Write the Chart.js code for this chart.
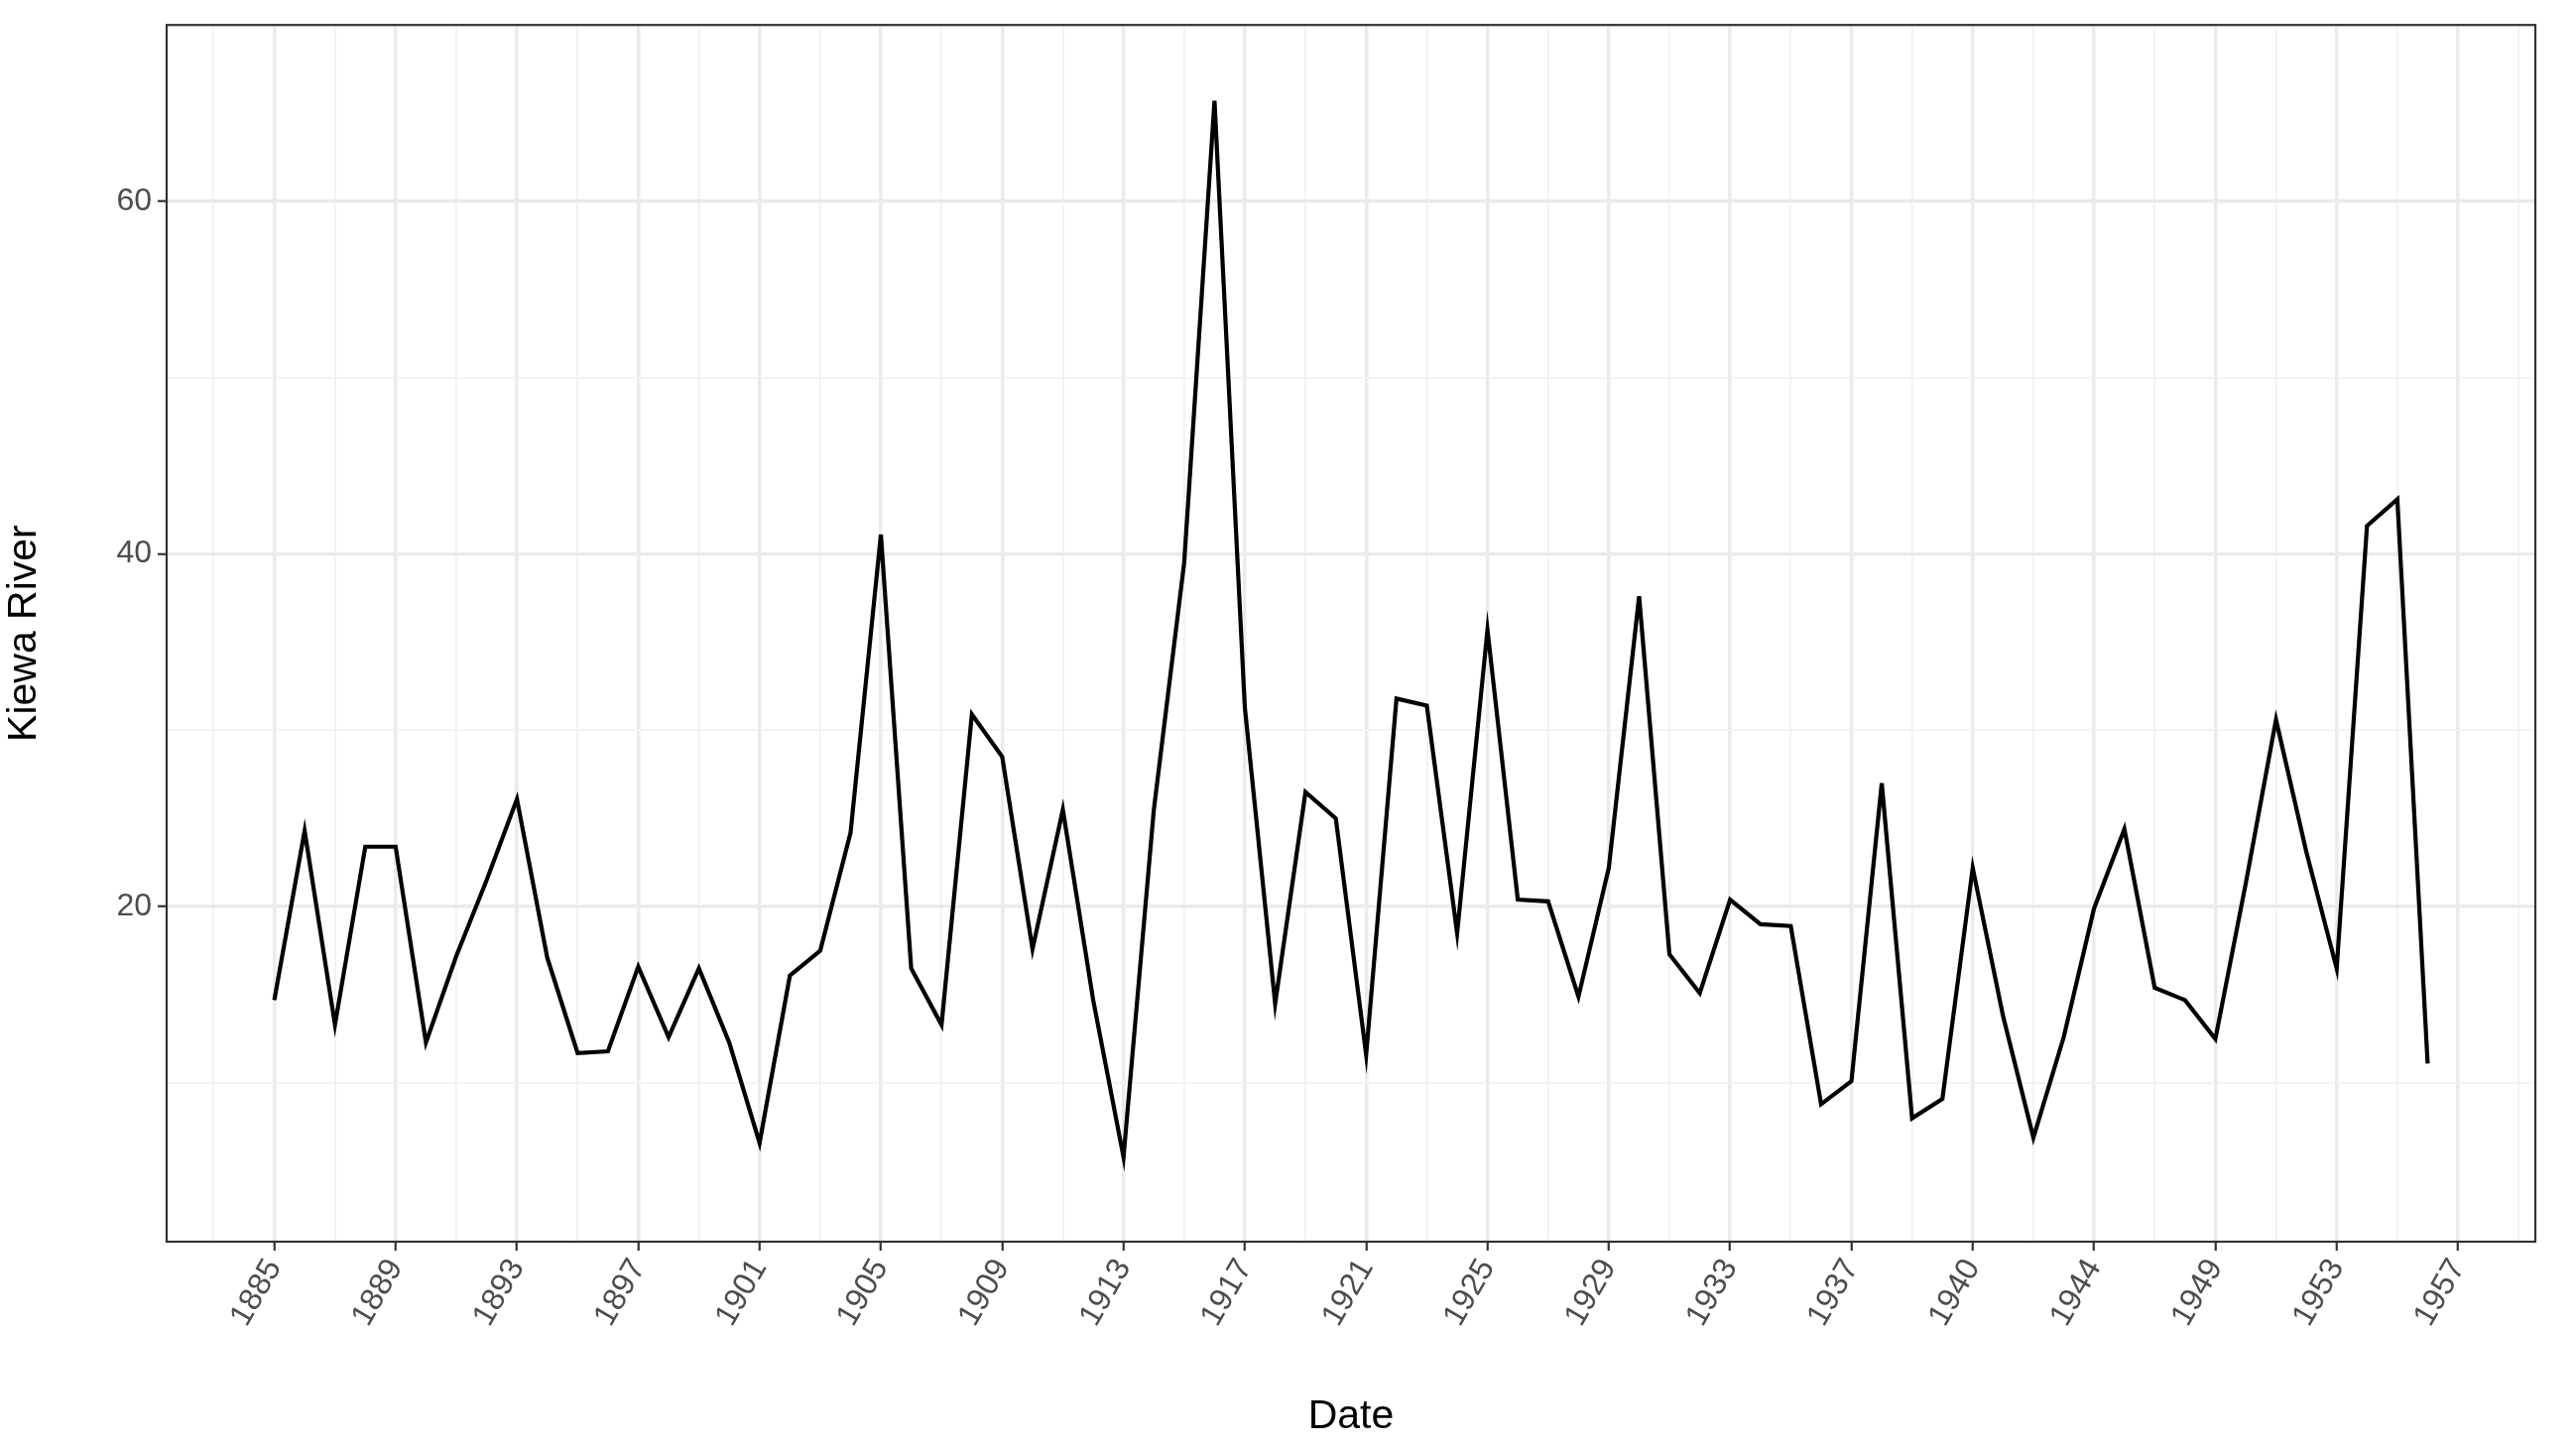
<!DOCTYPE html>
<html><head><meta charset="utf-8">
<script src="https://cdn.jsdelivr.net/npm/chart.js@4/dist/chart.umd.min.js"></script>
<style>html,body{margin:0;padding:0;background:#fff}#w{width:2597px;height:1459px}</style>
</head><body><div id="w"><canvas id="c"></canvas></div>
<script>
const values = [14.7,24.3,13.3,23.4,23.4,12.3,17.2,21.5,26.1,17.1,11.7,11.8,16.6,12.6,16.5,12.3,6.6,16.1,17.5,24.2,41.1,16.5,13.3,30.9,28.5,17.6,25.5,14.7,5.8,25.5,39.5,65.7,31.3,14.5,26.5,25.0,11.6,31.8,31.4,18.5,35.7,20.4,20.3,14.9,22.2,37.6,17.3,15.1,20.4,19.0,18.9,8.8,10.1,27.0,8.0,9.1,22.2,13.8,6.9,12.6,19.9,24.4,15.4,14.7,12.5,21.3,30.6,23.1,16.5,41.6,43.1,11.1];
const tickLabels = ["1885","1889","1893","1897","1901","1905","1909","1913","1917","1921","1925","1929","1933","1937","1940","1944","1949","1953","1957"];
const yTicks = [10,20,30,40,50,60];
const points = values.map((v,i)=>({x:i,y:v}));
const border = {id:'border',afterDraw(ch){const a=ch.chartArea,c=ch.ctx;c.save();c.strokeStyle='#333';c.lineWidth=2.2;c.strokeRect(a.left,a.top,a.right-a.left,a.bottom-a.top);c.restore();}};
new Chart(document.getElementById('c'),{
 type:'line',
 data:{datasets:[{data:points,borderColor:'#000',borderWidth:4.2,pointRadius:0,tension:0,fill:false}]},
 options:{responsive:true,maintainAspectRatio:false,animation:false,
  layout:{padding:{top:25,right:41,left:0,bottom:0}},
  plugins:{legend:{display:false},tooltip:{enabled:false}},
  scales:{
   x:{type:'linear',min:-3.55,max:74.55,
    afterBuildTicks(s){const t=[];for(let v=-2;v<=74;v+=2)t.push({value:v});s.ticks=t;},
    afterFit(s){s.height=207;},
    border:{display:false},
    grid:{color:c=>c.tick&&c.tick.value%4===0?'#ebebeb':'#f2f2f2',lineWidth:c=>c.tick&&c.tick.value%4===0?3.5:1.8,
      tickColor:c=>c.tick&&c.tick.value%4===0?'#333':'rgba(0,0,0,0)',tickLength:9,tickWidth:2.2},
    ticks:{autoSkip:false,minRotation:60,maxRotation:60,color:'#4d4d4d',font:{family:'Arial, Liberation Sans',size:32},padding:2,
      callback:v=>(v%4===0&&v>=0)?tickLabels[v/4]:''},
    title:{display:true,text:'Date',color:'#000',font:{family:'Arial, Liberation Sans',size:41},padding:{top:0,bottom:6}}
   },
   y:{min:1,max:70,
    afterBuildTicks(s){s.ticks=yTicks.map(v=>({value:v}));},
    afterFit(s){s.width=168;},
    border:{display:false},
    grid:{color:c=>c.tick&&c.tick.value%20===0?'#ebebeb':'#f2f2f2',lineWidth:c=>c.tick&&c.tick.value%20===0?3.5:1.8,
      tickColor:c=>c.tick&&c.tick.value%20===0?'#333':'rgba(0,0,0,0)',tickLength:9,tickWidth:2.2},
    ticks:{color:'#4d4d4d',font:{family:'Arial, Liberation Sans',size:32},padding:6,callback:v=>v%20===0?String(v):''},
    title:{display:true,text:'Kiewa River',color:'#000',font:{family:'Arial, Liberation Sans',size:41},padding:{top:0,bottom:10}}
   }
  }},
 plugins:[border]
});
</script></body></html>
